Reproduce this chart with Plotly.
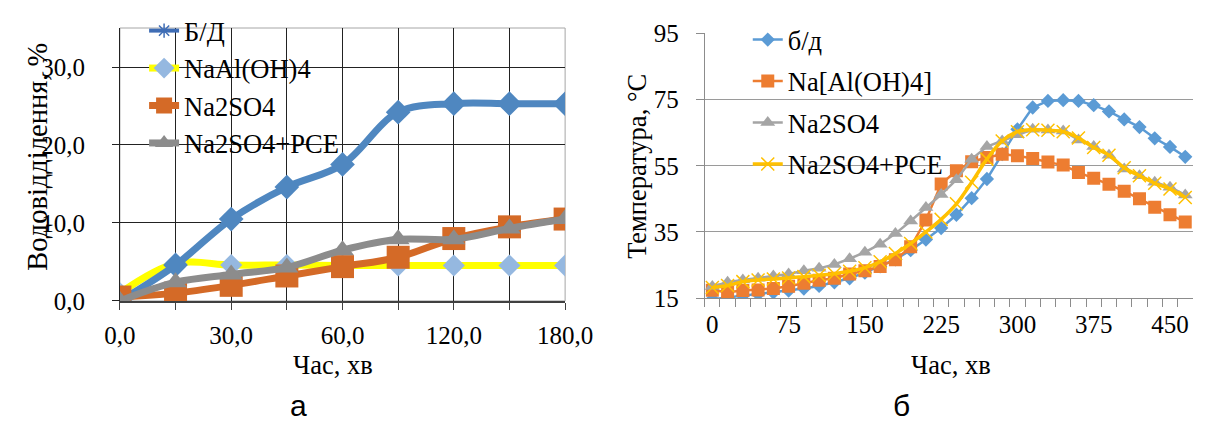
import plotly.graph_objects as go

# ---------------- data: panel a ----------------
time_a = [0, 15, 30, 45, 60, 90, 120, 150, 180]
bd_a = [0.0, 4.6, 10.5, 14.6, 17.5, 24.2, 25.3, 25.3, 25.3]
naal_a = [1.0, 4.8, 4.6, 4.6, 4.55, 4.55, 4.55, 4.55, 4.55]
na2so4_a = [0.5, 1.0, 2.0, 3.2, 4.4, 5.6, 8.0, 9.5, 10.5]
pce_a = [0.0, 2.4, 3.4, 4.3, 6.5, 7.9, 7.9, 9.3, 10.5]
yticks_a = [0, 10, 20, 30]

# ---------------- data: panel b ----------------
time_b = [0, 15, 30, 45, 60, 75, 90, 105, 120, 135, 150, 165, 180, 195, 210, 225,
          240, 255, 270, 285, 300, 315, 330, 345, 360, 375, 390, 405, 420, 435, 450, 465]
bd_b = [14.7, 15.2, 15.7, 16.2, 16.7, 17.3, 17.9, 18.7, 19.8, 21.0, 22.7, 24.6, 26.7, 29.5, 32.7, 36.2,
        40.2, 45.2, 51.0, 58.5, 66.0, 72.6, 74.6, 74.8, 74.6, 73.3, 71.4, 69.0, 66.7, 63.3, 60.7, 57.7]
naal_b = [17.4, 16.8, 17.3, 17.5, 17.9, 18.6, 19.5, 20.4, 21.0, 22.3, 23.3, 24.6, 26.6, 30.5, 38.6, 49.5,
          53.5, 56.2, 57.5, 58.5, 58.0, 57.2, 56.1, 55.2, 53.0, 51.2, 49.4, 47.3, 45.0, 42.5, 40.2, 38.0]
na2so4_b = [18.5, 19.8, 20.5, 21.0, 21.7, 22.3, 23.3, 24.0, 25.2, 26.9, 28.9, 31.3, 34.5, 38.3, 42.4, 46.3,
            50.8, 57.0, 60.8, 62.5, 64.4, 66.0, 65.8, 65.5, 62.8, 60.8, 58.2, 54.0, 52.0, 50.0, 48.5, 46.2]
pce_b = [18.2, 18.8, 20.0, 20.5, 20.8, 21.1, 21.5, 21.9, 22.4, 23.1, 24.2, 26.0, 28.5, 31.5, 35.0, 38.8,
         43.5, 50.0, 57.0, 62.5, 65.3, 65.9, 65.7, 65.3, 63.4, 60.5, 58.2, 54.4, 52.0, 49.7, 48.0, 45.4]
yticks_b = [15, 35, 55, 75, 95]

cats_a = [f"{t},0" for t in time_a]
labels_a = [c if i % 2 == 0 else "" for i, c in enumerate(cats_a)]
cats_b = [str(t) for t in time_b]
labels_b = [c if i % 5 == 0 else "" for i, c in enumerate(cats_b)]

SERIF = "Liberation Serif"
FS = 25
FT = 26.5

fig = go.Figure()

# ---------- panel a traces (draw order: yellow, blue, orange, gray) ----------
fig.add_trace(go.Scatter(
    x=cats_a, y=naal_a, name="NaAl(OH)4", legend="legend", legendrank=2,
    mode="lines+markers", line=dict(color="#FFFF00", width=7, shape="spline", smoothing=1),
    marker=dict(symbol="diamond", size=17, color="#95B8E0"), xaxis="x", yaxis="y"))
fig.add_trace(go.Scatter(
    x=cats_a[:1], y=naal_a[:1], showlegend=False, mode="markers",
    marker=dict(symbol="x-thin-open", size=12, color="#E0A030", line=dict(width=1.5)),
    xaxis="x", yaxis="y", hoverinfo="skip"))
fig.add_trace(go.Scatter(
    x=cats_a, y=bd_a, name="Б/Д", showlegend=False,
    mode="lines+markers", line=dict(color="#4F87C0", width=7, shape="spline", smoothing=1),
    marker=dict(symbol="diamond", size=19, color="#4F87C0"), xaxis="x", yaxis="y"))
fig.add_trace(go.Scatter(
    x=[None], y=[None], name="Б/Д", legend="legend", legendrank=1,
    mode="lines+markers", line=dict(color="#3F6DB5", width=4),
    marker=dict(symbol="asterisk-open", size=12, color="#3F6DB5", line=dict(width=1.5)),
    xaxis="x", yaxis="y"))
fig.add_trace(go.Scatter(
    x=cats_a, y=na2so4_a, name="Na2SO4", legend="legend", legendrank=3,
    mode="lines+markers", line=dict(color="#D46A27", width=7, shape="spline", smoothing=1),
    marker=dict(symbol="square", size=23, color="#D46A27"), xaxis="x", yaxis="y"))
fig.add_trace(go.Scatter(
    x=cats_a, y=pce_a, name="Na2SO4+PCE", legend="legend", legendrank=4,
    mode="lines+markers", line=dict(color="#8C8C8C", width=7, shape="spline", smoothing=1),
    marker=dict(symbol="triangle-up", size=20, color="#8C8C8C"), xaxis="x", yaxis="y"))

# ---------- panel b traces ----------
series_b = [
    ("б/д", bd_b, "#5B9BD5", "diamond", 11, "linear", 2.5),
    ("Na[Al(OH)4]", naal_b, "#ED7D31", "square", 13, "linear", 2.5),
    ("Na2SO4", na2so4_b, "#A5A5A5", "triangle-up", 13, "linear", 2.5),
]
for i, (nm, ys, col, sym, sz, shp, lw) in enumerate(series_b):
    fig.add_trace(go.Scatter(
        x=cats_b, y=ys, name=nm, legend="legend2", legendgroup=f"b{i}",
        mode="lines+markers", line=dict(color=col, width=lw, shape=shp),
        marker=dict(symbol=sym, size=sz, color=col), xaxis="x2", yaxis="y2"))
fig.add_trace(go.Scatter(
    x=cats_b, y=pce_b, name="Na2SO4+PCE", legend="legend2", legendgroup="b3",
    mode="lines+markers", line=dict(color="#FFC000", width=3.5, shape="spline", smoothing=1),
    marker=dict(symbol="x-thin-open", size=13, color="#FFC000", line=dict(width=1.5)),
    xaxis="x2", yaxis="y2"))

tickfont = dict(family=SERIF, size=FS, color="black")
titlefont = dict(family=SERIF, size=FT, color="black")


def ann(text, x, y, angle=0, font=titlefont):
    return dict(text=text, textangle=angle, x=x / 1230, y=1 - y / 435,
                xref="paper", yref="paper", xanchor="center", yanchor="middle",
                showarrow=False, font=font)


fig.update_layout(
    width=1230, height=435, margin=dict(l=0, r=0, t=0, b=0),
    paper_bgcolor="white", plot_bgcolor="white", separators=", ",
    xaxis=dict(domain=[0.0876, 0.4630], anchor="y", type="category",
               categoryorder="array", categoryarray=cats_a, range=[0, len(cats_a) - 1],
               tickmode="array", tickvals=cats_a, ticktext=labels_a, tickangle=0,
               showgrid=True, gridcolor="#222222", gridwidth=1,
               ticks="outside", ticklen=7, tickcolor="#404040",
               showline=True, linecolor="#404040", linewidth=2,
               tickfont=tickfont, ticklabelstandoff=4),
    yaxis=dict(domain=[0.2943, 0.9632], anchor="x", range=[0, 35],
               tickmode="array", tickvals=yticks_a, tickformat=".1f",
               showgrid=True, gridcolor="#222222", gridwidth=1, zeroline=False,
               ticks="outside", ticklen=7, tickcolor="#222222",
               showline=True, linecolor="#222222", linewidth=1,
               tickfont=tickfont, ticklabelstandoff=22),
    xaxis2=dict(domain=[0.5807, 0.9923], anchor="y2", type="category",
                categoryorder="array", categoryarray=cats_b, range=[-0.5, len(cats_b) - 0.5],
                tickmode="array", tickvals=cats_b, ticktext=labels_b, tickson="boundaries",
                tickangle=0,
                showgrid=False, ticks="outside", ticklen=8, tickcolor="#8C8C8C",
                showline=True, linecolor="#8C8C8C", linewidth=1,
                tickfont=tickfont, ticklabelstandoff=4),
    yaxis2=dict(domain=[0.3011, 0.9501], anchor="x2", range=[15, 95],
                tickmode="array", tickvals=yticks_b,
                showgrid=True, gridcolor="#9A9A9A", gridwidth=1, zeroline=False,
                ticks="outside", ticklen=8, tickcolor="#8C8C8C",
                showline=True, linecolor="#8C8C8C", linewidth=1,
                tickfont=tickfont, ticklabelstandoff=12),
    legend=dict(x=0.108, y=1.015, xanchor="left", yanchor="top",
                bgcolor="rgba(0,0,0,0)", font=dict(family=SERIF, size=FT, color="black"),
                traceorder="normal", tracegroupgap=0, itemsizing="trace"),
    legend2=dict(x=0.617, y=0.993, xanchor="left", yanchor="top",
                 bgcolor="rgba(0,0,0,0)", font=dict(family=SERIF, size=FT, color="black"),
                 traceorder="grouped", tracegroupgap=4),
    shapes=[dict(type="rect", xref="x domain", yref="y domain", x0=0, x1=1, y0=0, y1=1,
                 line=dict(color="#A6A6A6", width=1), layer="below")],
    annotations=[
        ann("Водовідділення, %", 22, 153, -90,
            font=dict(family=SERIF, size=28.5, color="black")),
        ann("Час, хв", 329, 375),
        ann("Температура, °С", 644, 163, -90),
        ann("Час, хв", 970, 375),
        ann("а", 293, 418, font=dict(family="Liberation Sans", size=30, color="black")),
        ann("б", 918, 418, font=dict(family="Liberation Sans", size=30, color="black")),
    ],
)

fig.write_html("out.html")
